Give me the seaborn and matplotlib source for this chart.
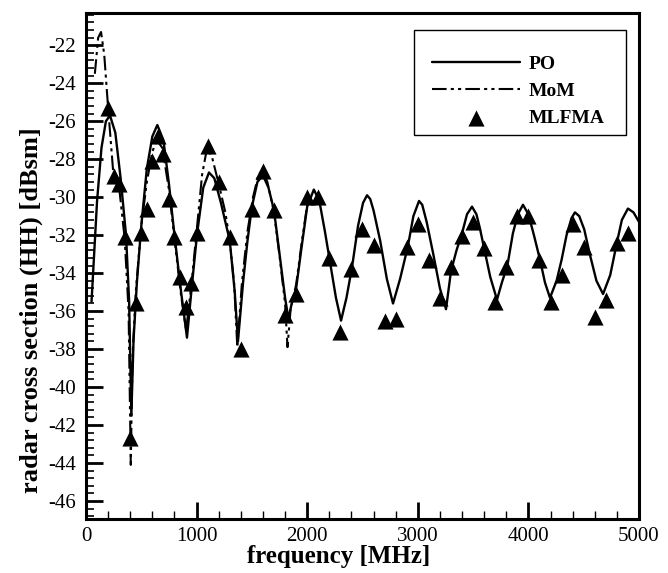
import matplotlib
matplotlib.use("Agg")
import matplotlib.pyplot as plt
from matplotlib.patches import Rectangle
from matplotlib.ticker import AutoMinorLocator
import pandas as pd
import seaborn as sns

# Physical optics (PO) result
po_freq = [50, 100, 140, 180, 217, 265, 313, 362, 390, 410, 430, 460, 500, 550, 600, 645,
           700, 750, 800, 860, 913, 960, 1005, 1060, 1112, 1160, 1220, 1300, 1345, 1374,
           1420, 1460, 1500, 1550, 1600, 1650, 1700, 1750, 1800, 1830, 1860, 1900, 1950,
           2000, 2060, 2110, 2160, 2200, 2260, 2306, 2355, 2405, 2460, 2505, 2541, 2570,
           2600, 2660, 2720, 2776, 2840, 2910, 2960, 3011, 3040, 3080, 3140, 3200, 3255,
           3300, 3350, 3400, 3445, 3490, 3530, 3560, 3600, 3655, 3716, 3760, 3810, 3860,
           3905, 3951, 4000, 4050, 4105, 4150, 4195, 4255, 4300, 4345, 4390, 4421, 4460,
           4505, 4555, 4615, 4675, 4740, 4800, 4845, 4900, 4950, 5000]
po_rcs = [-35.5, -30.2, -27.4, -26.0, -25.7, -26.6, -29.0, -32.0, -35.5, -41.5, -37.5, -34.5,
          -31.5, -28.5, -26.8, -26.2, -27.0, -29.3, -32.0, -35.0, -37.4, -34.5, -31.9, -29.5,
          -28.7, -29.0, -30.3, -32.3, -35.0, -37.6, -34.5, -32.3, -30.5, -29.2, -28.85, -29.5,
          -30.7, -33.0, -35.3, -36.4, -35.6, -34.8, -32.6, -30.5, -29.6, -30.2, -31.8, -33.2,
          -35.3, -36.5, -35.3, -33.7, -31.5, -30.3, -29.9, -30.1, -30.7, -32.3, -34.3, -35.6,
          -34.3, -32.6, -31.0, -30.2, -30.4, -31.3, -33.0, -34.8, -35.9, -33.9, -32.8, -31.9,
          -30.9, -30.5, -30.9, -31.6, -32.7, -34.2, -35.4, -34.5, -33.6, -31.9, -30.9, -30.4,
          -30.9, -32.0, -33.3, -34.5, -35.3, -34.4, -33.3, -32.0, -31.1, -30.8, -31.0, -31.7,
          -33.0, -34.4, -35.1, -34.1, -32.4, -31.2, -30.6, -30.8, -31.3]

# Method of moments (MoM) reference solution, low-frequency band
mom_freq = [80, 110, 136, 165, 200, 245, 300, 350, 385, 405, 420, 450, 500, 550, 600, 640,
            690, 750, 800, 860, 905, 955, 1000, 1050, 1095, 1140, 1200, 1260, 1300, 1340,
            1368, 1410, 1460, 1510, 1560, 1595, 1640, 1700, 1750, 1800, 1822, 1850, 1900,
            1950, 2000]
mom_rcs = [-23.5, -21.6, -21.3, -22.5, -25.3, -28.6, -29.5, -32.2, -36.0, -44.1, -38.5,
           -35.0, -31.5, -29.2, -27.6, -27.0, -27.4, -29.6, -32.2, -35.2, -37.0, -34.5,
           -31.8, -28.8, -27.4, -27.9, -29.3, -30.8, -32.3, -34.6, -37.9, -34.5, -31.8,
           -30.0, -28.8, -28.6, -29.2, -30.8, -33.1, -35.6, -37.9, -35.9, -34.6, -32.4,
           -30.4]

# Multilevel fast multipole algorithm (MLFMA) samples
mlfma_freq = [200, 250, 300, 350, 400, 450, 500, 550, 600, 650, 700, 750, 800, 850, 900,
              950, 1000, 1100, 1200, 1300, 1400, 1500, 1600, 1700, 1800, 1900, 2000, 2100,
              2200, 2300, 2400, 2500, 2600, 2700, 2800, 2900, 3000, 3100, 3200, 3300, 3400,
              3500, 3600, 3700, 3800, 3900, 4000, 4100, 4200, 4300, 4400, 4500, 4600, 4700,
              4800, 4900]
mlfma_rcs = [-25.3, -28.9, -29.3, -32.1, -42.7, -35.6, -31.9, -30.6, -28.1, -26.8, -27.7,
             -30.1, -32.1, -34.2, -35.8, -34.5, -31.9, -27.3, -29.2, -32.1, -38.0, -30.6,
             -28.6, -30.7, -36.2, -35.1, -30.0, -30.0, -33.2, -37.1, -33.8, -31.7, -32.5,
             -36.5, -36.4, -32.6, -31.4, -33.3, -35.3, -33.7, -32.05, -31.3, -32.7, -35.5,
             -33.7, -31.0, -31.0, -33.3, -35.5, -34.1, -31.4, -32.6, -36.3, -35.4, -32.4,
             -31.9]

x_ticks = [0, 1000, 2000, 3000, 4000, 5000]
y_ticks = list(range(-46, -21, 2))

sns.set_theme(style="ticks")
plt.rcParams["font.family"] = ["Liberation Serif", "DejaVu Serif"]
plt.rcParams["axes.unicode_minus"] = False
for key in ["text.color", "axes.labelcolor", "xtick.color", "ytick.color",
            "axes.edgecolor"]:
    plt.rcParams[key] = "black"

df_po = pd.DataFrame({"freq": po_freq, "rcs": po_rcs})
df_mom = pd.DataFrame({"freq": mom_freq, "rcs": mom_rcs})
df_ml = pd.DataFrame({"freq": mlfma_freq, "rcs": mlfma_rcs})

fig = plt.figure(figsize=(6.68, 5.73), dpi=100)
ax = fig.add_axes([86 / 668, 1 - 519 / 573, 553 / 668, 506 / 573])

sns.lineplot(data=df_po, x="freq", y="rcs", ax=ax, color="black", lw=1.7,
             sort=False, estimator=None, label="PO")
sns.lineplot(data=df_mom, x="freq", y="rcs", ax=ax, color="black", lw=1.5,
             sort=False, estimator=None, label="MoM",
             linestyle=(0, (7, 2, 1.5, 2, 1.5, 2)))
sns.scatterplot(data=df_ml, x="freq", y="rcs", ax=ax, marker="^", s=135,
                color="black", edgecolor="black", linewidth=0, label="MLFMA",
                zorder=3)

ax.set_xlim(0, 5000)
ax.set_ylim(-46.95, -20.3)
ax.set_xticks(x_ticks)
ax.set_yticks(y_ticks)
ax.xaxis.set_minor_locator(AutoMinorLocator(5))
ax.yaxis.set_minor_locator(AutoMinorLocator(5))
ax.tick_params(axis="both", which="both", direction="in", top=False, right=False,
               labelsize=15, colors="black")
ax.tick_params(axis="x", which="major", length=12, width=2, pad=6)
ax.tick_params(axis="x", which="minor", length=6, width=1)
ax.tick_params(axis="y", which="major", length=12, width=2, pad=7)
ax.tick_params(axis="y", which="minor", length=6, width=1.2)
for side in ["left", "right", "top", "bottom"]:
    ax.spines[side].set_visible(True)
    ax.spines[side].set_linewidth(2.2)
    ax.spines[side].set_color("black")

ax.set_xlabel("frequency [MHz]", fontsize=18, fontweight="bold")
ax.set_ylabel("radar cross section (HH) [dBsm]", fontsize=19, fontweight="bold")
ax.xaxis.set_label_coords(0.457, -0.052)
ax.yaxis.set_label_coords(-0.078, 0.413)

# Legend entries without their own frame; a plain box is drawn around them
leg = ax.legend(loc="upper left", bbox_to_anchor=(0.6257, 0.9170), frameon=False,
                prop={"family": "Liberation Serif", "weight": "bold", "size": 14},
                handlelength=4.54, handletextpad=0.41, borderpad=0,
                labelspacing=0.5, borderaxespad=0)
ax.add_patch(Rectangle((0.5931, 0.7590), 0.9765 - 0.5931, 0.9664 - 0.7590,
                       transform=ax.transAxes, fill=True, facecolor="white",
                       edgecolor="black", linewidth=1.0, zorder=4))
leg.set_zorder(5)

fig.savefig("out.png", dpi=100)
